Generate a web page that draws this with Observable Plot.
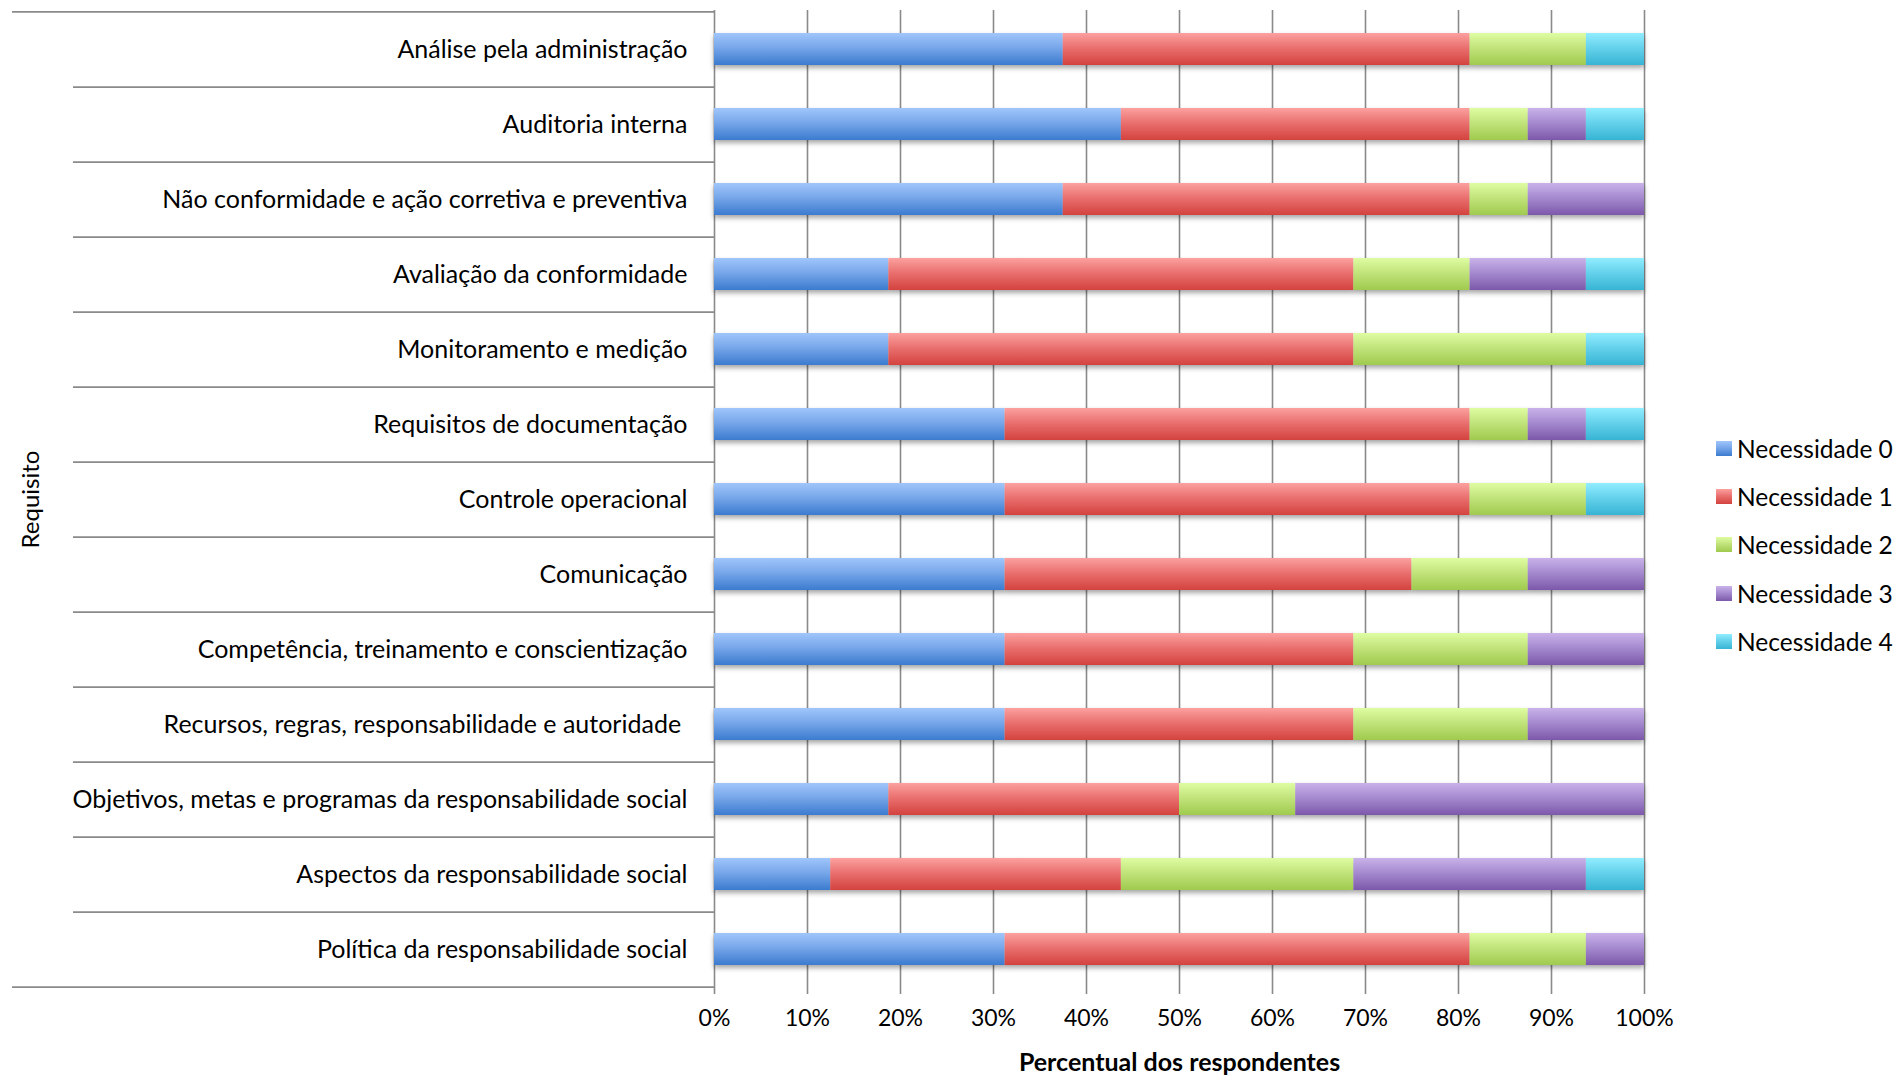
<!DOCTYPE html>
<html>
<head>
<meta charset="utf-8">
<script src="https://cdn.jsdelivr.net/npm/d3@7"></script>
<script src="https://cdn.jsdelivr.net/npm/@observablehq/plot@0.6"></script>
<style>
  html, body { margin: 0; padding: 0; background: #fff; }
  #wrap { position: relative; width: 1897px; height: 1076px; font-family: Lato, "Open Sans", sans-serif; }
  #legend { position: absolute; left: 1716px; top: 424px; font-size: 24.5px; color: #000; }
  .item { display: flex; align-items: center; height: 48.3px; white-space: nowrap; }
  .sw { width: 16px; height: 15px; margin-right: 5px; }
</style>
</head>
<body>
<div id="wrap"><div id="legend"></div></div>
<script>
const categories = [
  "Análise pela administração",
  "Auditoria interna",
  "Não conformidade e ação corretiva e preventiva",
  "Avaliação da conformidade",
  "Monitoramento e medição",
  "Requisitos de documentação",
  "Controle operacional",
  "Comunicação",
  "Competência, treinamento e conscientização",
  "Recursos, regras, responsabilidade e autoridade ",
  "Objetivos, metas e programas da responsabilidade social",
  "Aspectos da responsabilidade social",
  "Política da responsabilidade social"
];
const series = ["Necessidade 0", "Necessidade 1", "Necessidade 2", "Necessidade 3", "Necessidade 4"];
const nec0 = [37.5, 43.75, 37.5, 18.75, 18.75, 31.25, 31.25, 31.25, 31.25, 31.25, 18.75, 12.5, 31.25];
const nec1 = [43.75, 37.5, 43.75, 50, 50, 50, 50, 43.75, 37.5, 37.5, 31.25, 31.25, 50];
const nec2 = [12.5, 6.25, 6.25, 12.5, 25, 6.25, 12.5, 12.5, 18.75, 18.75, 12.5, 25, 12.5];
const nec3 = [0, 6.25, 12.5, 12.5, 0, 6.25, 0, 12.5, 12.5, 12.5, 37.5, 25, 6.25];
const nec4 = [6.25, 6.25, 0, 6.25, 6.25, 6.25, 6.25, 0, 0, 0, 0, 6.25, 0];
const xTicks = [0, 10, 20, 30, 40, 50, 60, 70, 80, 90, 100];
const xTitle = "Percentual dos respondentes";
const yTitle = "Requisito";

const seriesValues = [nec0, nec1, nec2, nec3, nec4];
const gradStops = [
  ["#a0c6fb", "#78a7ea", "#3b7bcf"],
  ["#fba19f", "#ea7170", "#d3423e"],
  ["#defda2", "#c2e47c", "#9fca4e"],
  ["#c9b2ea", "#a68bd0", "#7c58aa"],
  ["#91edff", "#66d2ec", "#37b4d4"]
];

const data = categories.flatMap((c, i) =>
  series.map((s, j) => ({category: c, series: s, value: seriesValues[j][i]}))
);

const W = 1897, H = 1076, mT = 10, mB = 88, mL = 714, mR = 253;
const step = (H - mT - mB) / categories.length;
const grey = "#8a8a8a";

const plot = Plot.plot({
  width: W, height: H,
  marginTop: mT, marginBottom: mB, marginLeft: mL, marginRight: mR,
  style: {fontFamily: "Lato, 'Open Sans', sans-serif", fontSize: "23px", color: "#000", background: "#fff"},
  x: {domain: [0, 100]},
  y: {domain: categories, paddingInner: 0.58, paddingOuter: 0.29},
  color: {domain: series, range: series.map((s, i) => `url(#grad${i})`)},
  marks: [
    Plot.ruleX(xTicks, {stroke: grey, strokeWidth: 1.6, insetBottom: -6}),
    Plot.ruleY(categories.slice(0, -1), {dy: step / 2, stroke: grey, strokeWidth: 1.6, insetLeft: -(mL - 73), insetRight: W - mL - mR}),
    Plot.ruleY([categories[0]], {dy: -step / 2, stroke: grey, strokeWidth: 1.6, insetLeft: -(mL - 12), insetRight: W - mL - mR}),
    Plot.ruleY([categories[categories.length - 1]], {dy: step / 2, stroke: grey, strokeWidth: 1.6, insetLeft: -(mL - 12), insetRight: W - mL - mR}),
    Plot.barX(data, {x: "value", y: "category", fill: "series"}),
    Plot.axisX(xTicks, {tickSize: 0, tickPadding: 21, tickFormat: d => d + "%", label: null}),
    Plot.axisY({tickSize: 0, tickPadding: 27, label: null, fontSize: 25}),
    Plot.text([xTitle], {frameAnchor: "bottom", dy: 74, fontWeight: "bold", fontSize: 25, textAnchor: "middle", lineAnchor: "middle"}),
    Plot.text([yTitle], {frameAnchor: "left", dx: -(mL - 31), rotate: -90, textAnchor: "middle", lineAnchor: "middle", fontSize: 24})
  ]
});

// gradients + shadow
const svg = d3.select(plot);
const defs = svg.insert("defs", ":first-child");
gradStops.forEach((st, i) => {
  const g = defs.append("linearGradient").attr("id", `grad${i}`).attr("x1", 0).attr("y1", 0).attr("x2", 0).attr("y2", 1);
  g.append("stop").attr("offset", "0%").attr("stop-color", st[0]);
  g.append("stop").attr("offset", "45%").attr("stop-color", st[1]);
  g.append("stop").attr("offset", "100%").attr("stop-color", st[2]);
});
const f = defs.append("filter").attr("id", "shadow").attr("x", "-5%").attr("y", "-30%").attr("width", "110%").attr("height", "180%");
f.append("feDropShadow").attr("dx", 0).attr("dy", 3).attr("stdDeviation", 2.5).attr("flood-color", "#000").attr("flood-opacity", 0.35);
svg.selectAll('g[aria-label="bar"]').attr("filter", "url(#shadow)");

document.getElementById("wrap").prepend(plot);

// legend
const legend = d3.select("#legend");
series.forEach((s, i) => {
  const it = legend.append("div").attr("class", "item");
  it.append("div").attr("class", "sw")
    .style("background", `linear-gradient(to bottom, ${gradStops[i][0]}, ${gradStops[i][1]} 45%, ${gradStops[i][2]})`);
  it.append("span").text(s);
});
</script>
</body>
</html>
